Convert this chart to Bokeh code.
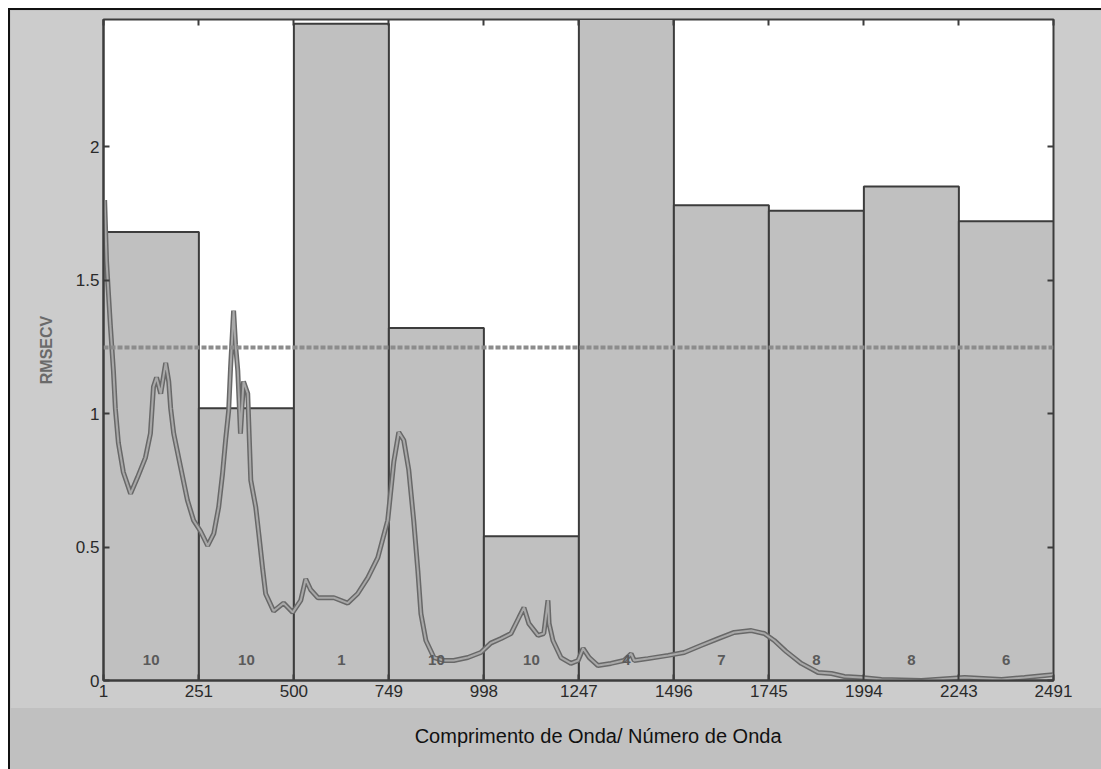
from bokeh.plotting import figure
from bokeh.layouts import column
from bokeh.models import FixedTicker, LinearAxis, Span, Label, Range1d, ColumnDataSource
from bokeh.core.properties import value
from bokeh.embed import file_html
from bokeh.resources import INLINE

# Spectral intervals (variable index boundaries) and the model error of each one
interval_edges = [1, 251, 500, 749, 998, 1247, 1496, 1745, 1994, 2243, 2491]
interval_rmsecv = [1.68, 1.02, 2.46, 1.32, 0.54, 2.50, 1.78, 1.76, 1.85, 1.72]
interval_lvs = ["10", "10", "1", "10", "10", "4", "7", "8", "8", "6"]

# Error of the full-spectrum model
global_rmsecv = 1.247

# Mean spectrum, scaled to the error axis
spectrum_x = [4, 9, 19, 27, 32, 40, 53, 72, 90, 111, 124, 132, 140, 151, 164, 172,
              177, 185, 203, 221, 237, 255, 274, 290, 303, 313, 321, 329, 334, 342,
              347, 353, 360, 368, 379, 387, 400, 408, 418, 426, 447, 473, 497, 518,
              531, 544, 563, 605, 641, 667, 694, 720, 746, 762, 775, 788, 801, 814,
              825, 833, 846, 867, 893, 919, 956, 990, 1016, 1043, 1069, 1090, 1103,
              1116, 1140, 1155, 1166, 1169, 1179, 1200, 1226, 1245, 1258, 1274, 1297,
              1331, 1365, 1384, 1392, 1428, 1481, 1523, 1567, 1612, 1654, 1699, 1733,
              1759, 1790, 1830, 1874, 1909, 1943, 1987, 2040, 2145, 2258, 2355, 2415,
              2468, 2491]
spectrum_y = [1.80, 1.57, 1.33, 1.16, 1.02, 0.89, 0.78, 0.70, 0.76, 0.835, 0.925, 1.10,
              1.135, 1.075, 1.19, 1.12, 1.02, 0.925, 0.80, 0.675, 0.60, 0.56, 0.505, 0.55,
              0.65, 0.775, 0.90, 1.01, 1.17, 1.385, 1.26, 1.16, 0.925, 1.12, 1.075, 0.75,
              0.65, 0.55, 0.42, 0.325, 0.26, 0.29, 0.255, 0.30, 0.38, 0.34, 0.31, 0.31,
              0.29, 0.325, 0.385, 0.46, 0.60, 0.82, 0.93, 0.90, 0.79, 0.60, 0.41, 0.25,
              0.15, 0.086, 0.075, 0.075, 0.086, 0.105, 0.14, 0.157, 0.176, 0.236, 0.273,
              0.213, 0.169, 0.176, 0.30, 0.213, 0.15, 0.086, 0.064, 0.075, 0.12, 0.086,
              0.056, 0.064, 0.075, 0.10, 0.075, 0.082, 0.094, 0.105, 0.131, 0.157, 0.18,
              0.187, 0.176, 0.15, 0.109, 0.064, 0.030, 0.026, 0.015, 0.011, 0.004, 0.0,
              0.011, 0.004, 0.011, 0.019, 0.022]

y_ticks = [0, 0.5, 1, 1.5, 2]
y_tick_labels = ["0", "0.5", "1", "1.5", "2"]
x_tick_labels = [str(v) for v in interval_edges]

FONT = "Liberation Sans"
PANEL = "#cccccc"
BAND = "#c0c0c0"
EDGE = "#3c3c3c"

# figure geometry (pixels)
W, H_MAIN, H_CAP = 1091, 698, 61
B_LEFT, B_RIGHT, B_TOP, B_BOTTOM = 93, 48, 9, 28

bars = ColumnDataSource(dict(
    left=interval_edges[:-1],
    right=interval_edges[1:],
    top=interval_rmsecv,
    mid=[(a + b) / 2 for a, b in zip(interval_edges[:-1], interval_edges[1:])],
    lv=interval_lvs,
))

p = figure(width=W, height=H_MAIN,
           x_range=Range1d(interval_edges[0], interval_edges[-1]),
           y_range=Range1d(0, 2.476),
           output_backend="svg", toolbar_location=None,
           min_border_left=B_LEFT, min_border_right=B_RIGHT,
           min_border_top=B_TOP, min_border_bottom=B_BOTTOM)
p.border_fill_color = PANEL
p.background_fill_color = "white"
p.outline_line_color = EDGE
p.outline_line_width = 2
p.grid.visible = False

p.quad(left="left", right="right", bottom=0, top="top", source=bars,
       fill_color=BAND, line_color=EDGE, line_width=2)

p.line(spectrum_x, spectrum_y, line_color="#686868", line_width=5)
p.line(spectrum_x, spectrum_y, line_color="#a8a8a8", line_width=2)

# number of latent variables used in each interval
p.text(x="mid", y=0.075, text="lv", source=bars,
       text_font=value(FONT), text_font_size="15px", text_font_style="bold",
       text_color="#5a5a5a", text_align="center", text_baseline="middle")

p.add_layout(Span(location=global_rmsecv, dimension="width",
                  line_color="#8c8c8c", line_width=4, line_dash="5 2"))

# bottom / left axes with labels
xt = FixedTicker(ticks=interval_edges)
yt = FixedTicker(ticks=y_ticks)
for ax in p.xaxis:
    ax.ticker = xt
    ax.major_label_overrides = {v: s for v, s in zip(interval_edges, x_tick_labels)}
for ax in p.yaxis:
    ax.ticker = yt
    ax.major_label_overrides = {v: s for v, s in zip(y_ticks, y_tick_labels)}
    ax.axis_label = "RMSECV"
    ax.axis_label_text_font = FONT
    ax.axis_label_text_font_size = "16px"
    ax.axis_label_text_font_style = "bold"
    ax.axis_label_text_color = "#6a6a6a"
    ax.axis_label_standoff = 18

for ax in list(p.xaxis) + list(p.yaxis):
    ax.major_tick_in = 6
    ax.major_tick_out = 0
    ax.minor_tick_line_color = None
    ax.axis_line_color = EDGE
    ax.axis_line_width = 2
    ax.major_tick_line_color = EDGE
    ax.major_tick_line_width = 2
    ax.major_label_text_font = FONT
    ax.major_label_text_font_size = "17px"
    ax.major_label_text_color = "#2a2a2a"
    ax.major_label_standoff = 4

# mirrored tick marks on the top and right edges (no labels)
def tick_only_axis(ticker):
    return LinearAxis(ticker=ticker, major_tick_in=6, major_tick_out=0,
                      minor_tick_line_color=None, axis_line_color=EDGE,
                      major_tick_line_color=EDGE, major_tick_line_width=2,
                      major_label_text_font_size="1px", major_label_text_color=None,
                      major_label_standoff=0)

p.add_layout(tick_only_axis(xt), "above")
p.add_layout(tick_only_axis(yt), "right")

# caption band under the chart
cap = figure(width=W, height=H_CAP, x_range=Range1d(0, W), y_range=Range1d(0, H_CAP),
             output_backend="svg", toolbar_location=None,
             min_border=0, min_border_left=0, min_border_right=0,
             min_border_top=0, min_border_bottom=0)
cap.axis.visible = False
cap.grid.visible = False
cap.outline_line_color = None
cap.background_fill_color = BAND
cap.border_fill_color = BAND
cap.add_layout(Label(x=(B_LEFT + W - B_RIGHT) / 2, y=H_CAP - 27,
                     text="Comprimento de Onda/ Número de Onda",
                     text_font=FONT, text_font_size="20px", text_color="#111111",
                     text_align="center", text_baseline="middle"))

layout = column(p, cap, spacing=0, margin=(8, 0, 0, 8),
                styles={"border-left": "2px solid #111", "border-top": "2px solid #111",
                        "background-color": BAND})

open("out.html", "w").write(file_html(layout, INLINE))
